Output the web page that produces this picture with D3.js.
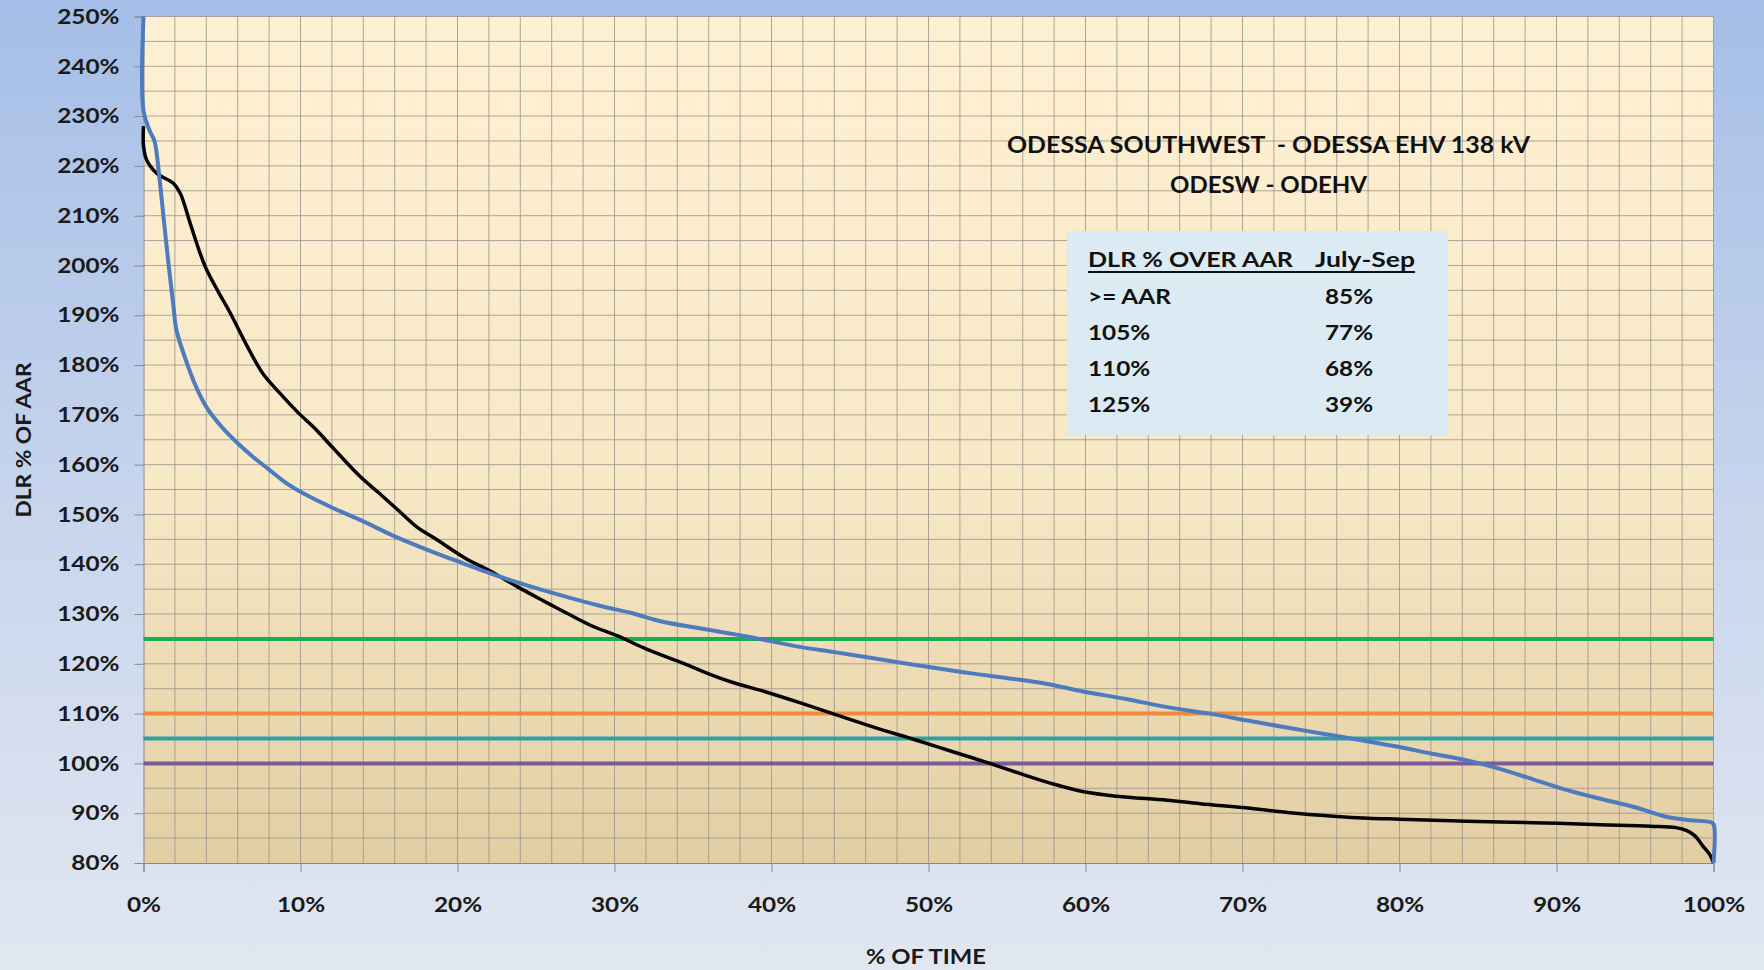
<!DOCTYPE html>
<html><head><meta charset="utf-8">
<script src="https://cdn.jsdelivr.net/npm/d3@7/dist/d3.min.js"></script>
<style>html,body{margin:0;padding:0;overflow:hidden;}svg{display:block;}</style>
</head><body>
<script>
// ---- data ----
const xTicks = [0,10,20,30,40,50,60,70,80,90,100];
const yTicks = [80,90,100,110,120,130,140,150,160,170,180,190,200,210,220,230,240,250];
const thresholdValues = [125,110,105,100];
const thresholdColors = ["#17b04d","#ef8a3c","#2f9fa8","#7a5a9b"];
// July-Sep DLR duration curve (blue): [% of time, DLR % of AAR]
const blueX = [0,0,0.4,0.7,1.0,1.25,1.5,1.9,2.1,2.7,3.3,4.0,5.0,6.0,7.0,8.0,9.0,10.2,12,14,16,18,20,22.7,25,27,29,31.2,33,35.5,38.6,41.8,43.9,46.5,49.3,52,54.6,57.5,59.9,62.5,65.2,67.9,70.5,73,75.8,78,80,82,84.3,86.5,88.5,90.5,92.8,95,97,98.5,99.8,100,100];
const blueV = [250,231,227,225,218,210.5,203,192,187,181,176,171.6,167.5,164.3,161.5,159,156.5,154.2,151.4,148.6,145.6,143,140.6,137.5,135.2,133.4,131.7,130.1,128.5,127.1,125.4,123.4,122.4,121.1,119.7,118.4,117.3,116,114.4,113,111.3,110.0,108.5,107.1,105.6,104.4,103.3,102,100.6,98.8,96.8,94.8,92.9,91.2,89.3,88.6,88.2,87.8,80];
// second curve (black)
const blackX = [0,0,0.2,0.85,1.9,2.34,2.97,3.6,4.0,4.8,5.5,6.6,7.6,8.7,9.8,11,12,13.8,15,16.1,17.4,18.5,20.6,22,23.8,25.5,27,28.5,30.2,32,34.4,36,37.6,39.5,41.8,43.9,46.5,49.3,51.5,53.9,56,57.8,59.9,62,65.2,67.3,70.5,73,75.8,78,80,84.3,88.5,92.8,96,97.6,98.3,98.8,99.3,99.8,100];
const blackV = [228,224,221.2,218.5,216.5,214.5,208.5,202.5,199.3,194.5,190.6,183.8,178.3,174.3,170.6,167,163.6,157.6,154.3,151.2,147.5,145.3,141,138.8,135.5,132.6,130.1,127.7,125.6,123,120.1,118,116.2,114.5,112.2,110.0,107.3,104.6,102.4,100,97.8,96.0,94.3,93.4,92.6,91.9,91.0,90.1,89.4,89.0,88.8,88.4,88.1,87.7,87.4,87.1,86.5,85.5,83.5,81.5,80];
const titleLines = ["ODESSA SOUTHWEST  - ODESSA EHV 138 kV","ODESW - ODEHV"];
const tableHeader = ["DLR % OVER AAR","July-Sep"];
const tableLabels = [">= AAR","105%","110%","125%"];
const tableValues = ["85%","77%","68%","39%"];
const xTitle = "% OF TIME";
const yTitle = "DLR % OF AAR";

// ---- layout ----
const W = 1764, H = 970;
const m = {left:143.5, right:W-1713.5, top:16.5, bottom:H-863};
const FONT = "Lato, 'Open Sans', sans-serif";
const K = 1.16; // horizontal stretch of the text face

function stretch(sel, k){
  sel.each(function(){
    const l = this.getComputedTextLength();
    this.setAttribute("textLength", (l*k).toFixed(1));
    this.setAttribute("lengthAdjust","spacingAndGlyphs");
  });
}
function fitTo(sel, w){
  sel.attr("textLength", w).attr("lengthAdjust","spacingAndGlyphs");
}

const svg = d3.select("body").append("svg").attr("width",W).attr("height",H);
const defs = svg.append("defs");
const bg = defs.append("linearGradient").attr("id","bg").attr("x1",0).attr("y1",0).attr("x2",0).attr("y2",1);
bg.append("stop").attr("offset","0%").attr("stop-color","#a5bee7");
bg.append("stop").attr("offset","55%").attr("stop-color","#c9d6ed");
bg.append("stop").attr("offset","100%").attr("stop-color","#e1e7f1");
const pg = defs.append("linearGradient").attr("id","pg").attr("x1",0).attr("y1",0).attr("x2",0).attr("y2",1);
pg.append("stop").attr("offset","0%").attr("stop-color","#fef0d2");
pg.append("stop").attr("offset","55%").attr("stop-color","#f7e8c6");
pg.append("stop").attr("offset","100%").attr("stop-color","#e2cea3");

svg.append("rect").attr("width",W).attr("height",H).attr("fill","url(#bg)");

const x = d3.scaleLinear().domain([0,100]).range([m.left, W-m.right]);
const y = d3.scaleLinear().domain([80,250]).range([H-m.bottom, m.top]);

svg.append("rect").attr("x",x(0)).attr("y",y(250)).attr("width",x(100)-x(0)).attr("height",y(80)-y(250)).attr("fill","url(#pg)");

// grid
const g = svg.append("g");
g.selectAll(".vg").data(d3.range(2,101,2)).join("line")
  .attr("x1",d=>x(d)).attr("x2",d=>x(d)).attr("y1",y(250)).attr("y2",y(80))
  .attr("stroke","#98928a").attr("stroke-width",1).attr("stroke-opacity",0.8);
g.selectAll(".hg").data(d3.range(85,251,5)).join("line")
  .attr("x1",x(0)).attr("x2",x(100)).attr("y1",d=>y(d)).attr("y2",d=>y(d))
  .attr("stroke","#98928a").attr("stroke-width",1).attr("stroke-opacity",0.8);

// axes
const yAxis = d3.axisLeft(y).tickValues(yTicks).tickFormat(d=>d+"%").tickSize(9).tickPadding(15);
const ya = svg.append("g").attr("transform",`translate(${x(0)},0)`).call(yAxis);
ya.select(".domain").attr("stroke","#888");
ya.selectAll(".tick line").attr("stroke","#888");
ya.selectAll("text").attr("font-family",FONT).attr("font-weight","bold").attr("font-size",21).attr("fill","#1a1a1a").call(stretch,K);

const xAxis = d3.axisBottom(x).tickValues(xTicks).tickFormat(d=>d+"%").tickSize(9).tickPadding(25);
const xa = svg.append("g").attr("transform",`translate(0,${y(80)})`).call(xAxis);
xa.select(".domain").attr("stroke","#888");
xa.selectAll(".tick line").attr("stroke","#888");
xa.selectAll("text").attr("font-family",FONT).attr("font-weight","bold").attr("font-size",21).attr("fill","#1a1a1a").call(stretch,K);

// threshold lines
svg.selectAll(".thr").data(thresholdValues).join("line")
  .attr("x1",x(0)).attr("x2",x(100)).attr("y1",d=>y(d)).attr("y2",d=>y(d))
  .attr("stroke",(d,i)=>thresholdColors[i]).attr("stroke-width",4);

// curves
const line = d3.line().x(d=>x(d[0])).y(d=>y(d[1])).curve(d3.curveCatmullRom.alpha(0.5));
const blackData = blackX.map((v,i)=>[v,blackV[i]]);
const blueData = blueX.map((v,i)=>[v,blueV[i]]);
svg.append("path").datum(blackData).attr("d",line).attr("fill","none").attr("stroke","#050505").attr("stroke-width",3.5).attr("stroke-linejoin","round");
svg.append("path").datum(blueData).attr("d",line).attr("fill","none").attr("stroke","#4d7bbd").attr("stroke-width",4).attr("stroke-linejoin","round");

// axis titles
svg.append("text").attr("transform",`translate(23,440) rotate(-90)`)
  .attr("text-anchor","middle").attr("dominant-baseline","central")
  .attr("font-family",FONT).attr("font-weight","bold").attr("font-size",20).attr("fill","#1a1a1a").text(yTitle).call(fitTo,155);
svg.append("text").attr("x",926).attr("y",956)
  .attr("text-anchor","middle").attr("dominant-baseline","central")
  .attr("font-family",FONT).attr("font-weight","bold").attr("font-size",20).attr("fill","#1a1a1a").text(xTitle).call(fitTo,120);

// title
const titleW = [523,197];
svg.selectAll(".title").data(titleLines).join("text")
  .attr("x",1268.5).attr("y",(d,i)=>144+i*40)
  .attr("text-anchor","middle").attr("dominant-baseline","central")
  .attr("font-family",FONT).attr("font-weight","bold").attr("font-size",23).attr("fill","#111")
  .style("white-space","pre").text(d=>d)
  .each(function(d,i){ d3.select(this).call(fitTo,titleW[i]); });

// table
svg.append("rect").attr("x",1067).attr("y",231).attr("width",381).attr("height",204).attr("fill","#dcebf3");
const tf = s=>s.attr("font-family",FONT).attr("font-weight","bold").attr("font-size",21).attr("fill","#111").attr("dominant-baseline","central");
svg.append("text").attr("x",1088).attr("y",258).call(tf).text(tableHeader[0]).call(fitTo,205);
svg.append("text").attr("x",1415).attr("y",258).attr("text-anchor","end").call(tf).text(tableHeader[1]).call(fitTo,100);
svg.append("line").attr("x1",1088).attr("x2",1415).attr("y1",272).attr("y2",272).attr("stroke","#111").attr("stroke-width",2);
const rowY = [295,331,367,403];
svg.selectAll(".tl").data(tableLabels).join("text").attr("x",1088).attr("y",(d,i)=>rowY[i]).call(tf).text(d=>d).call(stretch,K);
svg.selectAll(".tv").data(tableValues).join("text").attr("x",1349).attr("y",(d,i)=>rowY[i]).attr("text-anchor","middle").call(tf).text(d=>d).call(stretch,K);
</script>
</body></html>
